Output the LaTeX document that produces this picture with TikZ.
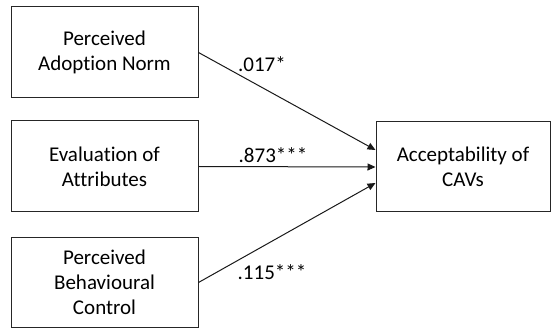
\documentclass[tikz,border=0pt]{standalone}
\usepackage{fontspec}
\setmainfont{Carlito}[Ligatures={NoCommon,NoContextual}]
\usetikzlibrary{arrows.meta}
\begin{document}
\begin{tikzpicture}[x=1pt,y=-1pt,
  box/.style={draw=black!85, line width=1pt, rectangle, minimum width=187pt, minimum height=91pt,
    align=center, inner sep=0pt, font=\fontsize{21}{25}\selectfont, text=black},
  path/.style={draw=black!90, line width=1pt, -{Triangle[length=8pt,width=7pt]}},
  coef/.style={font=\fontsize{21}{25}\selectfont, text=black, inner sep=0pt}]
\useasboundingbox (0,0) rectangle (551,328);
\node[box] (A) at (104.5,52.5) {Perceived\\Adoption Norm};
\node[box] (B) at (104.5,166.5) {Evaluation of\\Attributes};
\node[box, minimum height=89pt] (C) at (104.5,282.5) {Perceived\\Behavioural\\Control};
\node[box, minimum width=174pt, minimum height=90pt] (R) at (463,167) {Acceptability of\\CAVs};
\draw[path] (A.east) -- ([yshift=17pt]R.west);
\draw[path] (B.east) -- (R.west);
\draw[path] (C.east) -- ([yshift=-16pt]R.west);
\node[coef] (l1) at (262,64) {.017*};
\node[coef] (l2) at (273,155) {.873***};
\node[coef] (l3) at (272,272) {.115***};
\end{tikzpicture}
\end{document}
